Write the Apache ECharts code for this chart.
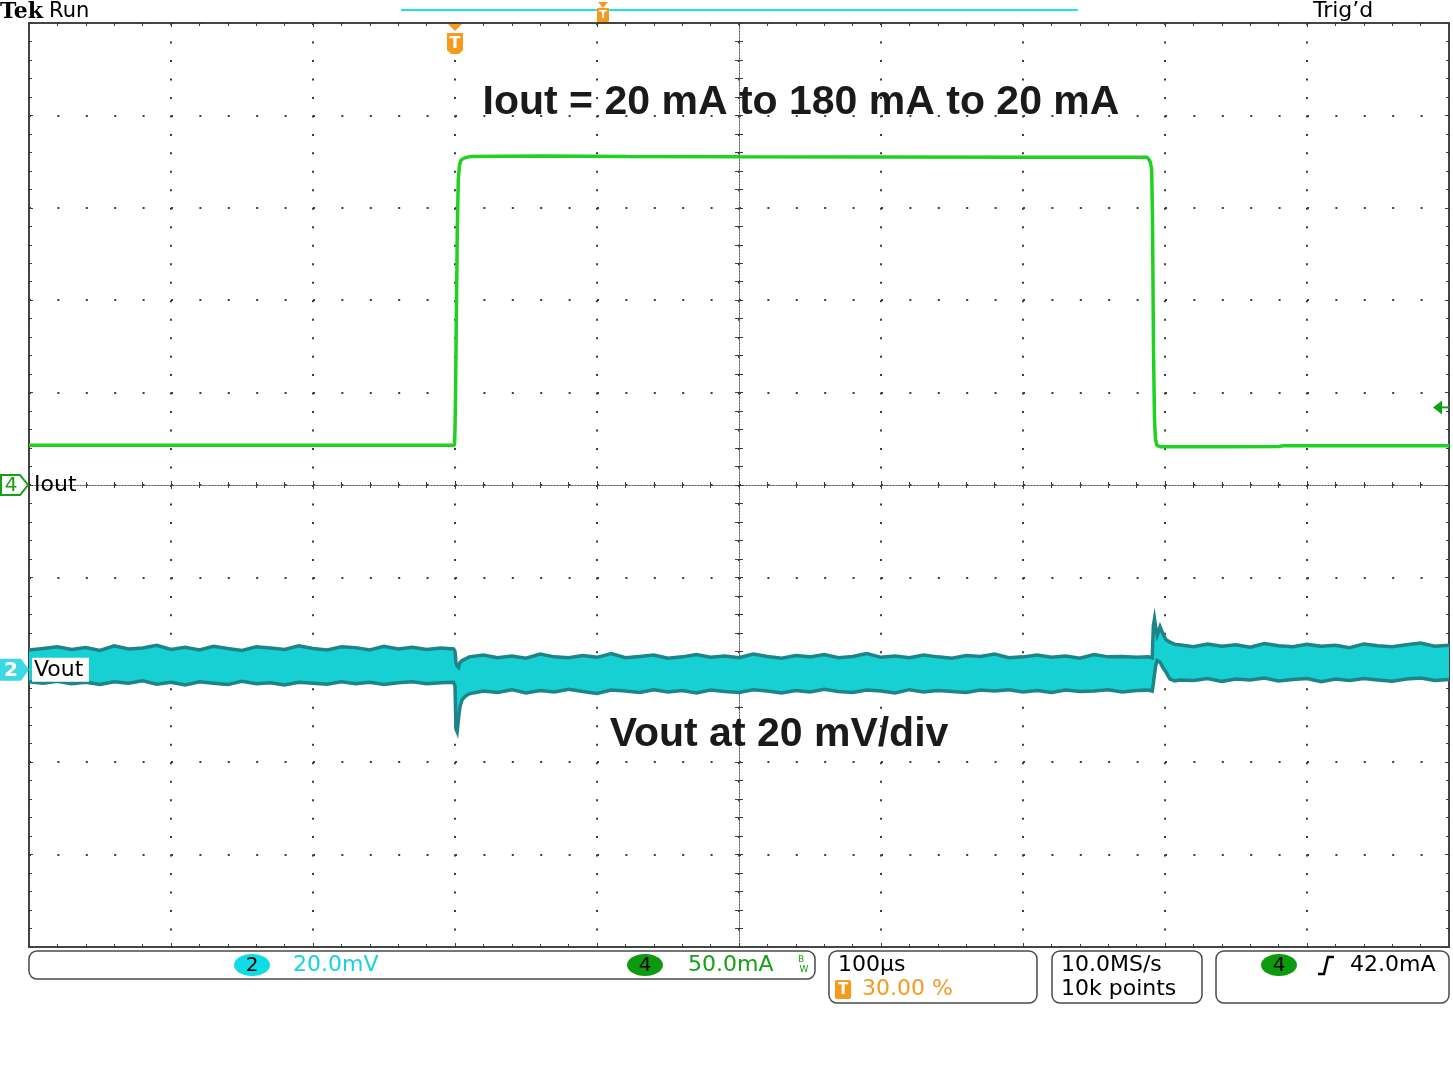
<!DOCTYPE html>
<html><head><meta charset="utf-8">
<script src="https://cdn.jsdelivr.net/npm/echarts@6/dist/echarts.min.js"></script>
<style>html,body{margin:0;padding:0;background:#fff}#c{width:1453px;height:1089px}</style>
</head><body><div id="c"></div>
<script>
// ---------------- data ----------------
// time axis: 100 us/div, trigger (t = 0) at 30 % of the record
const TIME_MIN_US = -300, TIME_MAX_US = 700, TIME_DIV_US = 100;
// channel 4 (Iout): 50 mA/div, ground at screen centre
const IOUT_MIN_MA = -250, IOUT_MAX_MA = 250, IOUT_DIV_MA = 50;
// channel 2 (Vout, AC): 20 mV/div, ground 2 div below centre
const VOUT_MIN_MV = -60, VOUT_MAX_MV = 140, VOUT_DIV_MV = 20;
const TRIGGER_LEVEL_MA = 42;

const IOUT_TIME_US = [-300, -150, -0.35, 0, 0.35, 1.62, 2.32, 3.17, 4.23, 6.34, 10.6, 60, 120, 200, 300, 400, 487.3, 489.4, 490.6, 491.2, 491.9, 492.6, 493.3, 494.4, 496.5, 540, 580, 584, 640, 700];
const IOUT_MA      = [21.5, 21.5, 21.5, 30.1, 47.9, 138.4, 165.5, 173.1, 175.8, 176.9, 177.7, 178.0, 177.8, 177.6, 177.5, 177.4, 177.4, 175.3, 171.0, 143.8, 73.4, 35.5, 24.6, 21.4, 20.7, 20.7, 20.8, 21.3, 21.3, 21.3];

// Vout noise band: upper and lower envelope of the displayed trace
const VOUT_TIME_US = [-300,-290,-280,-270,-260,-250,-240,-230,-220,-210,-200,-190,-180,-170,-160,-150,-140,-130,-120,-110,-100,-90,-80,-70,-60,-50,-40,-30,-20,-10,
  -1, 0, 0.7, 1.5, 2.5, 3.5, 5, 7, 10,
  20,30,40,50,60,70,80,90,100,110,120,130,140,150,160,170,180,190,200,210,220,230,240,250,260,270,280,290,300,310,320,330,340,350,360,370,380,390,400,410,420,430,440,450,460,470,480,
  488, 491, 491.8, 492.6, 493.5, 494.5, 496.5, 498.5, 500.7, 503.5, 507, 510,
  520,530,540,550,560,570,580,590,600,610,620,630,640,650,660,670,680,690,700];
const VOUT_UPPER_MV = [4.3,4.6,5.0,4.4,4.8,4.2,5.2,4.5,4.7,5.3,4.4,4.9,4.3,5.1,4.6,4.2,5.0,4.7,4.4,5.2,4.6,4.3,5.0,4.8,4.3,5.1,4.5,4.9,4.4,4.7,
  4.5, 4.0, 1.5, 0.8, 0.5, 1.6, 2.0, 2.3, 2.8,
  3.2,2.6,3.0,2.5,3.4,2.8,2.6,3.1,2.7,3.5,2.6,2.9,3.2,2.5,2.8,3.3,2.7,3.0,2.6,3.4,2.9,2.5,3.1,2.8,3.3,2.6,2.9,3.5,2.7,3.0,2.6,3.2,2.8,2.5,3.1,2.9,3.4,2.6,2.8,3.2,2.7,3.0,2.5,3.3,2.8,2.9,2.7,
  2.8, 2.6, 9.5, 11.0, 9.0, 7.5, 9.3, 7.8, 6.5, 6.0, 5.5, 5.4,
  5.0,5.6,5.1,5.4,4.9,5.7,5.2,5.0,5.5,5.1,5.3,4.8,5.6,5.2,5.0,5.4,5.8,5.1,5.3];
const VOUT_LOWER_MV = [-2.6,-2.9,-2.5,-3.0,-2.7,-3.2,-2.6,-2.9,-2.4,-3.1,-2.7,-3.3,-2.6,-2.9,-3.2,-2.5,-3.0,-2.8,-3.3,-2.7,-2.9,-3.1,-2.6,-3.0,-2.7,-3.2,-2.8,-2.6,-3.0,-2.8,
  -2.7, -3.5, -12.8, -13.4, -10.5, -8.0, -6.5, -5.8, -5.2,
  -4.6,-4.9,-4.3,-5.0,-4.5,-4.8,-4.2,-4.7,-5.1,-4.4,-4.6,-4.9,-4.3,-4.8,-4.5,-5.0,-4.4,-4.7,-4.9,-4.3,-4.6,-5.0,-4.5,-4.8,-4.2,-4.7,-4.9,-4.4,-4.6,-5.0,-4.3,-4.8,-4.5,-4.7,-4.9,-4.4,-4.6,-4.3,-4.8,-4.5,-4.9,-4.4,-4.7,-4.6,-4.3,-4.8,-4.5,
  -4.4, -4.6, -3.0, -1.0, 1.0, 2.0, 1.7, 0.5, -0.5, -2.0, -2.4, -2.2,
  -2.3,-1.9,-2.5,-2.0,-2.2,-1.8,-2.4,-2.1,-1.9,-2.6,-2.0,-2.3,-1.9,-2.2,-2.5,-2.0,-1.8,-2.3,-2.1];

const TITLE_TOP = 'Iout = 20 mA to 180 mA to 20 mA';
const TITLE_BOTTOM = 'Vout at 20 mV/div';

// ---------------- chart ----------------
const chart = echarts.init(document.getElementById('c'), null, {renderer: 'canvas', width: 1453, height: 1089});
const DOT = '#3c3c3c';
const MONO = '"DejaVu Sans", sans-serif';

function borderX(pos) {
  return {type: 'value', min: TIME_MIN_US, max: TIME_MAX_US, interval: TIME_DIV_US, position: pos,
    axisLine: {show: false, onZero: false}, axisLabel: {show: false},
    axisTick: {show: true, inside: true, length: 4, lineStyle: {color: DOT, width: 1}},
    minorTick: {show: true, splitNumber: 5, length: 3, lineStyle: {color: DOT, width: 1}},
    splitLine: {show: false}};
}
function borderY(pos) {
  return {type: 'value', min: IOUT_MIN_MA, max: IOUT_MAX_MA, interval: IOUT_DIV_MA, position: pos,
    axisLine: {show: false, onZero: false}, axisLabel: {show: false},
    axisTick: {show: true, inside: true, length: 4, lineStyle: {color: DOT, width: 1}},
    minorTick: {show: true, splitNumber: 5, length: 3, lineStyle: {color: DOT, width: 1}},
    splitLine: {show: false}};
}
function centreX(inside) {
  return {type: 'value', min: TIME_MIN_US, max: TIME_MAX_US, interval: TIME_DIV_US, position: 'bottom',
    axisLine: {show: true, onZero: true, onZeroAxisIndex: 0, lineStyle: {color: '#555', width: 1, type: [1, 2]}},
    axisLabel: {show: false},
    axisTick: {show: true, inside: inside, length: 4, lineStyle: {color: DOT, width: 1}},
    minorTick: {show: true, splitNumber: 5, length: 3, lineStyle: {color: DOT, width: 1}},
    splitLine: {show: false}};
}
function centreY(inside) {
  return {type: 'value', min: IOUT_MIN_MA, max: IOUT_MAX_MA, interval: IOUT_DIV_MA, position: 'left',
    axisLine: {show: true, onZero: true, onZeroAxisIndex: 4, lineStyle: {color: '#555', width: 1, type: [1, 2]}},
    axisLabel: {show: false},
    axisTick: {show: true, inside: inside, length: 4, lineStyle: {color: DOT, width: 1}},
    minorTick: {show: true, splitNumber: 5, length: 4, lineStyle: {color: DOT, width: 1}},
    splitLine: {show: false}};
}

const xMain = borderX('bottom');
xMain.splitLine = {show: true, lineStyle: {color: DOT, width: 2, type: [2, 16.48]}};
const yMain = borderY('left');
yMain.splitLine = {show: true, lineStyle: {color: DOT, width: 2, type: [2, 26.4]}};

function renderVoutBand(params, api) {
  if (params.dataIndex !== 0) return null;
  const upper = VOUT_TIME_US.map((t, i) => api.coord([t, VOUT_UPPER_MV[i]]));
  const lower = VOUT_TIME_US.map((t, i) => api.coord([t, VOUT_LOWER_MV[i]]));
  return {type: 'group', children: [
    {type: 'polygon', shape: {points: upper.concat(lower.slice().reverse())}, style: {fill: '#16d0d3'}},
    {type: 'polyline', shape: {points: upper}, style: {stroke: '#1d8588', lineWidth: 3.5, fill: null}},
    {type: 'polyline', shape: {points: lower}, style: {stroke: '#1d8588', lineWidth: 3.5, fill: null}}
  ]};
}

const option = {
  animation: false,
  grid: {left: 29, top: 23, width: 1420, height: 924, show: true, borderColor: '#454545', borderWidth: 2, backgroundColor: '#fff'},
  xAxis: [
    xMain, borderX('top'), centreX(true), centreX(false),
    {type: 'value', min: -5, max: 5, show: false, axisLine: {onZero: false}}
  ],
  yAxis: [
    yMain, borderY('right'),
    {type: 'value', min: VOUT_MIN_MV, max: VOUT_MAX_MV, interval: VOUT_DIV_MV, show: false, axisLine: {onZero: false}},
    centreY(true), centreY(false)
  ],
  series: [
    {type: 'custom', name: 'Vout', xAxisIndex: 0, yAxisIndex: 2, clip: true,
      data: VOUT_TIME_US.map((t, i) => [t, VOUT_LOWER_MV[i], VOUT_UPPER_MV[i]]),
      encode: {x: 0, y: [1, 2]}, renderItem: renderVoutBand, z: 3},
    {type: 'line', name: 'Iout', xAxisIndex: 0, yAxisIndex: 0,
      data: IOUT_TIME_US.map((t, i) => [t, IOUT_MA[i]]), symbol: 'none',
      lineStyle: {color: '#1fd21f', width: 3.5}, z: 4}
  ]
};
chart.setOption(option);

// ---------------- scope annotations ----------------
const xT = chart.convertToPixel({xAxisIndex: 0}, 0);
const y4 = chart.convertToPixel({yAxisIndex: 0}, 0);
const y2 = chart.convertToPixel({yAxisIndex: 2}, 0);
const yL = chart.convertToPixel({yAxisIndex: 0}, TRIGGER_LEVEL_MA);
const ORANGE = '#f59a1b', GREEN = '#14a014', CYAN = '#18d2dc';

function txt(x, y, s, font, fill, align) {
  return {type: 'text', x: x, y: y, z: 30, style: {text: s, font: font, fill: fill, align: align || 'left', verticalAlign: 'middle'}};
}
function box(x, y, w, h) {
  return {type: 'rect', z: 20, shape: {x: x, y: y, width: w, height: h, r: 8}, style: {fill: null, stroke: '#4a4a4a', lineWidth: 1.5}};
}
const g = [
  txt(0, 12, 'Tek', 'bold 22px "DejaVu Serif", serif', '#000'),
  txt(49, 12, 'Run', '21px ' + MONO, '#000'),
  {type: 'line', z: 20, shape: {x1: 401, y1: 10, x2: 1078, y2: 10}, style: {stroke: '#1ee0ec', lineWidth: 2}},
  {type: 'polygon', z: 21, shape: {points: [[598, 2], [608, 2], [603, 8]]}, style: {fill: ORANGE}},
  {type: 'rect', z: 21, shape: {x: 597, y: 8, width: 12, height: 14, r: 1}, style: {fill: ORANGE}},
  txt(603, 15.5, 'T', 'bold 11px ' + MONO, '#fff', 'center'),
  txt(1313, 11, "Trig\u2019d", '22px ' + MONO, '#000'),
  // trigger position marker
  {type: 'polygon', z: 21, shape: {points: [[xT - 7, 24], [xT + 7, 24], [xT, 31]]}, style: {fill: ORANGE}},
  {type: 'polygon', z: 21, shape: {points: [[xT - 8, 33], [xT + 8, 33], [xT + 8, 50], [xT + 4, 54], [xT - 4, 54], [xT - 8, 50]]}, style: {fill: ORANGE}},
  txt(xT, 43.5, 'T', 'bold 16px ' + MONO, '#fff', 'center'),
  // titles
  txt(801, 103, TITLE_TOP, 'bold 41px "Liberation Sans", Arial, sans-serif', '#1a1a1a', 'center'),
  txt(779, 735, TITLE_BOTTOM, 'bold 41px "Liberation Sans", Arial, sans-serif', '#1a1a1a', 'center'),
  // ch4 marker
  {type: 'polygon', z: 21, shape: {points: [[1, y4 - 10], [20, y4 - 10], [28, y4], [20, y4 + 10], [1, y4 + 10]]}, style: {fill: '#fff', stroke: GREEN, lineWidth: 2}},
  txt(11, y4 + 1, '4', '20px ' + MONO, GREEN, 'center'),
  txt(34, y4, 'Iout', '22px ' + MONO, '#000'),
  // ch2 marker
  {type: 'polygon', z: 21, shape: {points: [[0, y2 - 11], [21, y2 - 11], [29, y2], [21, y2 + 11], [0, y2 + 11]]}, style: {fill: '#3cd8e4'}},
  txt(11, y2 + 1, '2', 'bold 20px ' + MONO, '#fff', 'center'),
  {type: 'rect', z: 20, shape: {x: 32, y: y2 - 12, width: 57, height: 24}, style: {fill: '#fff'}},
  txt(34, y2, 'Vout', '22px ' + MONO, '#000'),
  // trigger level arrow
  {type: 'polygon', z: 21, shape: {points: [[1433, yL], [1442, yL - 7], [1442, yL + 7]]}, style: {fill: GREEN}},
  {type: 'line', z: 21, shape: {x1: 1440, y1: yL, x2: 1449, y2: yL}, style: {stroke: GREEN, lineWidth: 2}},
  // status bar
  box(29, 951, 786, 28),
  {type: 'ellipse', z: 21, shape: {cx: 252, cy: 965, rx: 18, ry: 11}, style: {fill: '#10dce6'}},
  txt(252, 966, '2', '20px ' + MONO, '#000', 'center'),
  txt(293, 965, '20.0mV', '22px ' + MONO, CYAN),
  {type: 'ellipse', z: 21, shape: {cx: 645, cy: 965, rx: 18, ry: 11}, style: {fill: '#0e9a0e'}},
  txt(645, 966, '4', '20px ' + MONO, '#000', 'center'),
  txt(688, 965, '50.0mA', '22px ' + MONO, GREEN),
  txt(801, 960, 'B', '9px ' + MONO, GREEN, 'center'),
  txt(804, 970, 'W', '9px ' + MONO, GREEN, 'center'),
  box(829, 951, 208, 52),
  txt(838, 965, '100\u00b5s', '22px ' + MONO, '#000'),
  {type: 'rect', z: 21, shape: {x: 835, y: 980, width: 16, height: 19, r: 2}, style: {fill: ORANGE}},
  txt(843, 990, 'T', 'bold 15px ' + MONO, '#fff', 'center'),
  txt(862, 989, '30.00 %', '22px ' + MONO, ORANGE),
  box(1052, 951, 150, 52),
  txt(1061, 965, '10.0MS/s', '22px ' + MONO, '#000'),
  txt(1061, 989, '10k points', '22px ' + MONO, '#000'),
  box(1216, 951, 233, 52),
  {type: 'ellipse', z: 21, shape: {cx: 1279, cy: 965, rx: 18, ry: 11}, style: {fill: '#0e9a0e'}},
  txt(1279, 966, '4', '20px ' + MONO, '#000', 'center'),
  {type: 'polyline', z: 21, shape: {points: [[1318, 974], [1324, 974], [1328, 957], [1334, 957]]}, style: {stroke: '#000', lineWidth: 2.5, fill: null}},
  txt(1350, 965, '42.0mA', '22px ' + MONO, '#000')
];
chart.setOption({graphic: {elements: g}});
</script></body></html>
